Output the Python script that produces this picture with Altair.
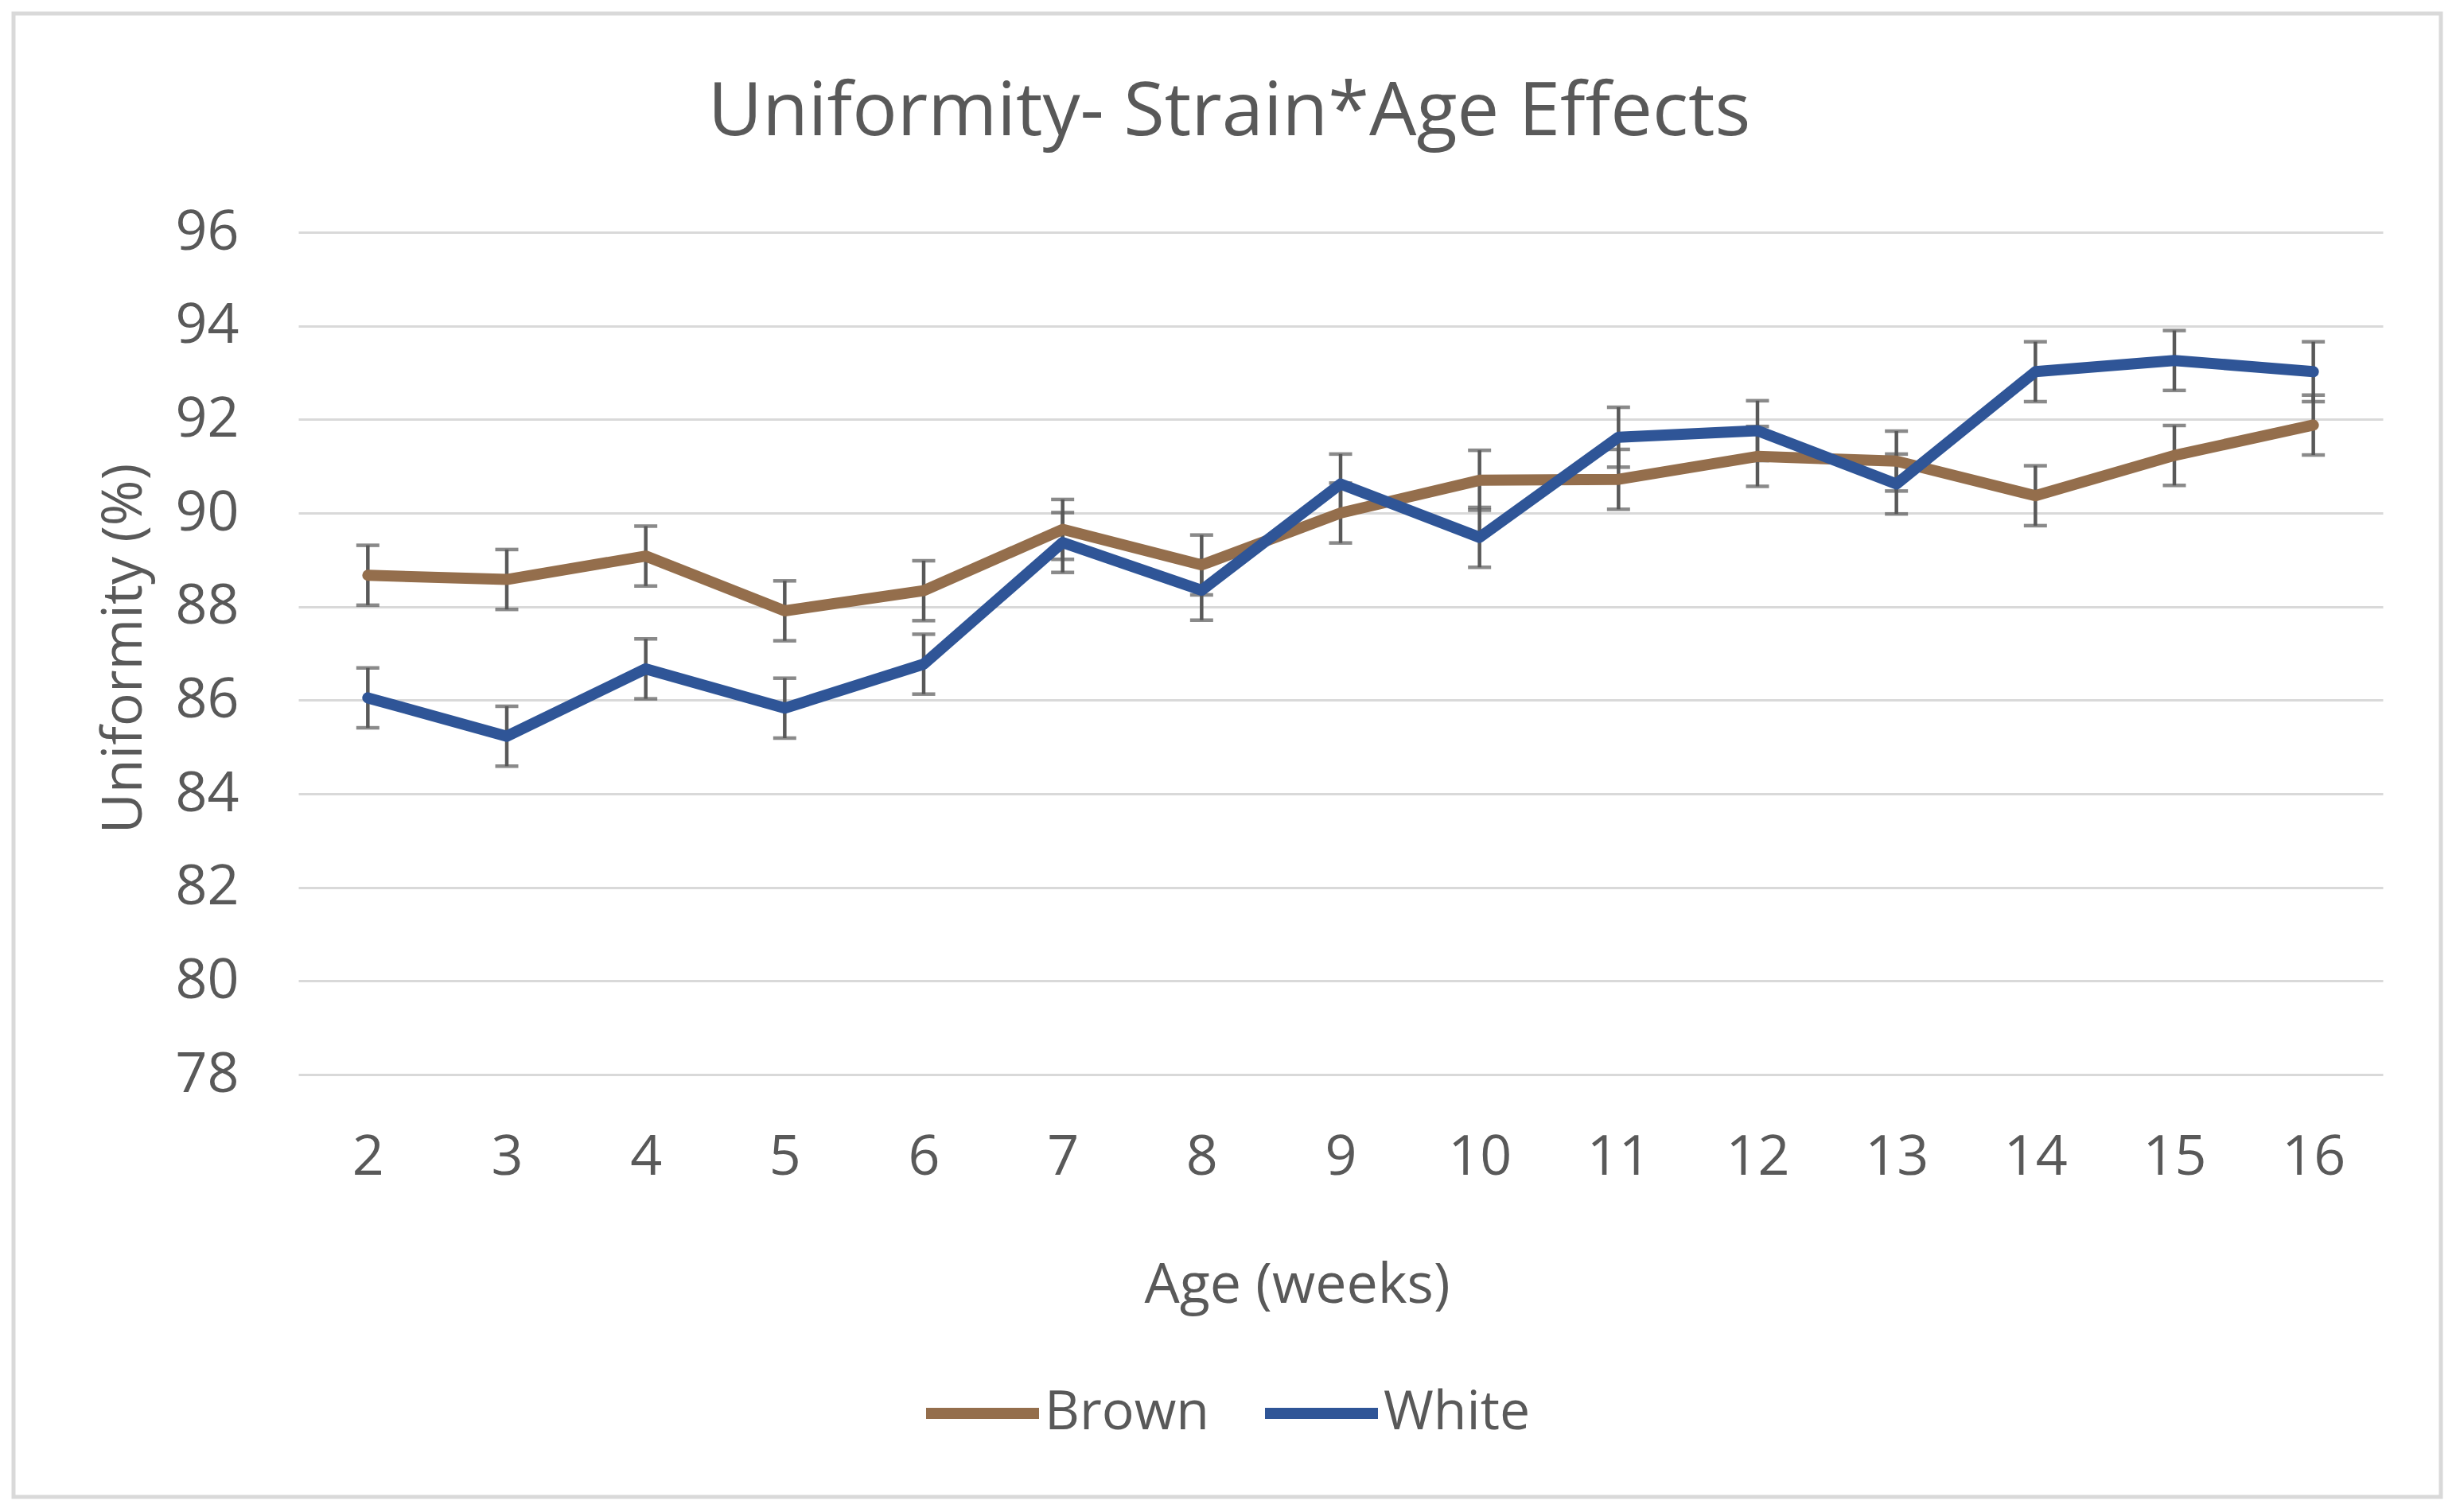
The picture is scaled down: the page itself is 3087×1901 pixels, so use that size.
import altair as alt
import pandas as pd

# ---- data ----
ages = [2, 3, 4, 5, 6, 7, 8, 9, 10, 11, 12, 13, 14, 15, 16]
brown = [88.67, 88.58, 89.08, 87.91, 88.34, 89.65, 88.89, 90.00, 90.70, 90.72, 91.21, 91.11, 90.37, 91.23, 91.88]
white = [86.05, 85.23, 86.67, 85.83, 86.77, 89.37, 88.35, 90.62, 89.48, 91.62, 91.76, 90.62, 93.02, 93.26, 93.02]
se = 0.64
strains = ["Brown", "White"]
colors = ["#946E4C", "#2F5597"]
y_ticks = [78, 80, 82, 84, 86, 88, 90, 92, 94, 96]

rows = []
for name, vals in zip(strains, [brown, white]):
    for a, v in zip(ages, vals):
        rows.append({"Strain": name, "Age": a, "Value": v, "lo": v - se, "hi": v + se})
df = pd.DataFrame(rows)

FONT = "Open Sans"
TXT = "#595959"
W, H = 2620, 1059

x_axis = alt.Axis(
    title="Age (weeks)", labelAngle=0, labelFontSize=70, labelFont=FONT, labelColor=TXT,
    labelPadding=70, ticks=False, domain=False, grid=False,
    titleFontSize=70, titleFont=FONT, titleColor=TXT, titleFontWeight="normal",
    titleX=1255, titleY=286, titleBaseline="alphabetic", titleAlign="center",
)
y_axis = alt.Axis(
    title="Uniformity (%)", values=y_ticks, labelFontSize=70, labelFont=FONT, labelColor=TXT,
    labelPadding=75, ticks=False, domain=False, grid=True, gridColor="#d9d9d9", gridWidth=3,
    titleFontSize=70, titleFont=FONT, titleColor=TXT, titleFontWeight="normal",
    titleAngle=270, titleX=-219, titleY=523, titleBaseline="middle", titleAlign="center",
)
x_scale = alt.Scale(type="point", padding=0.5)
y_scale = alt.Scale(domain=[78, 96], nice=False, zero=False)

X = alt.X("Age:O", scale=x_scale, axis=x_axis)

base = alt.Chart(df)

rules = base.mark_rule(color="#595959", strokeWidth=4.5).encode(
    x=X,
    y=alt.Y("lo:Q", scale=y_scale, axis=y_axis),
    y2="hi:Q",
)
cap_lo = base.mark_tick(color="#595959", thickness=4.5, size=29).encode(
    x=X, y=alt.Y("lo:Q", scale=y_scale, axis=y_axis)
)
cap_hi = base.mark_tick(color="#595959", thickness=4.5, size=29).encode(
    x=X, y=alt.Y("hi:Q", scale=y_scale, axis=y_axis)
)

lines = base.mark_line(strokeWidth=14, strokeCap="round", strokeJoin="round").encode(
    x=X,
    y=alt.Y("Value:Q", scale=y_scale, axis=y_axis),
    color=alt.Color(
        "Strain:N",
        scale=alt.Scale(domain=strains, range=colors),
        legend=alt.Legend(
            orient="none", legendX=782, legendY=1407, direction="horizontal", title=None,
            symbolType="stroke", symbolStrokeWidth=14, symbolSize=20164,
            labelFontSize=68, labelFont=FONT, labelColor=TXT, labelOffset=0,
            labelLimit=500, columnPadding=41,
        ),
    ),
)

title = alt.Chart(alt.Data(values=[{"t": "Uniformity- Strain*Age Effects"}])).mark_text(
    font=FONT, fontSize=94, color=TXT, align="center", baseline="alphabetic"
).encode(text="t:N", x=alt.value(1170), y=alt.value(-122))

border = alt.Chart(alt.Data(values=[{"b": 1}])).mark_rect(
    fillOpacity=0, stroke="#d9d9d9", strokeWidth=5
).encode(x=alt.value(-358), x2=alt.value(2693), y=alt.value(-275), y2=alt.value(1590))

chart = alt.layer(border, rules, cap_lo, cap_hi, lines, title).properties(
    width=W, height=H,
    padding={"left": 367, "top": 284, "right": 84, "bottom": 542},
    autosize=alt.AutoSizeParams(type="none"),
    background="white",
).configure_view(stroke=None)

chart.save("out.html", embed_options={"renderer": "svg", "actions": False})
